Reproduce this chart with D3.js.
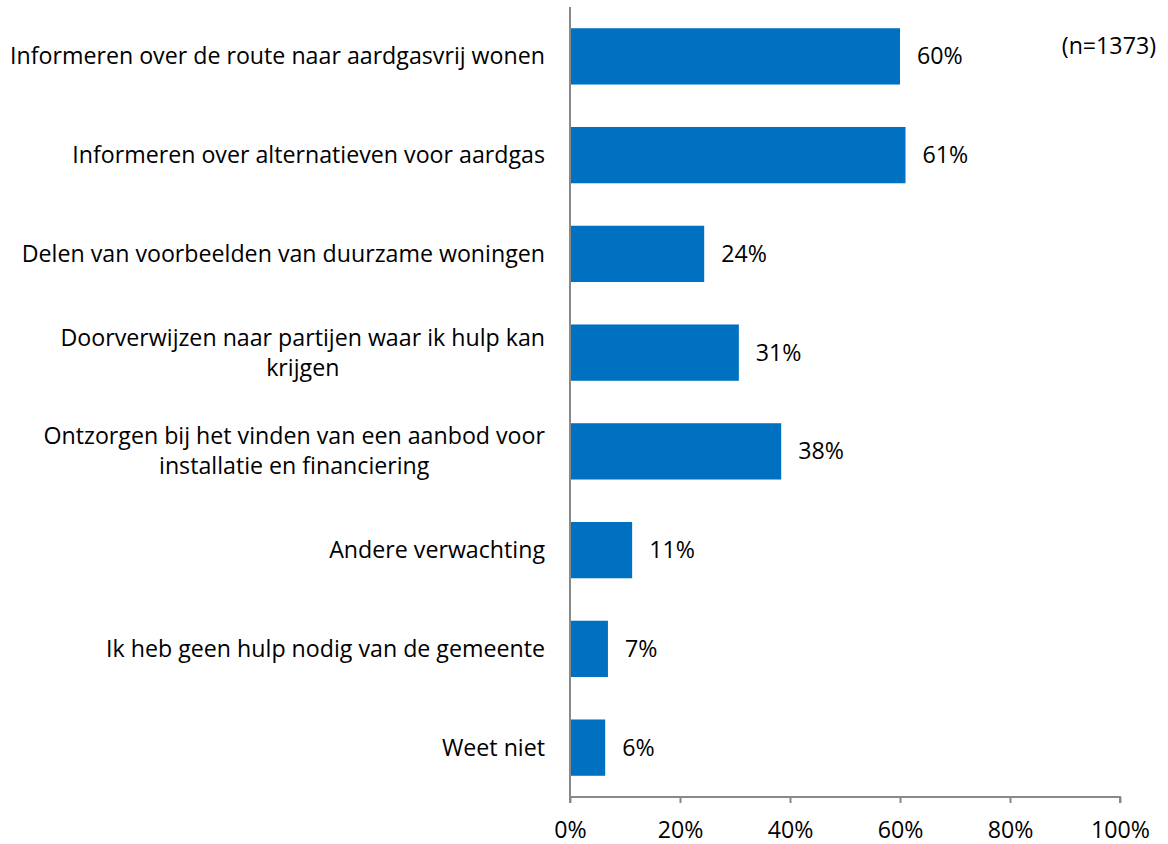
<!DOCTYPE html>
<html><head><meta charset="utf-8">
<script src="https://cdn.jsdelivr.net/npm/d3@7"></script>
<style>body{margin:0;background:#fff;} text{font-family:"Open Sans",sans-serif;fill:#000;}</style>
</head><body>
<svg id="c" width="1168" height="844"></svg>
<script>
const categories = [
  ["Informeren over de route naar aardgasvrij wonen"],
  ["Informeren over alternatieven voor aardgas"],
  ["Delen van voorbeelden van duurzame woningen"],
  ["Doorverwijzen naar partijen waar ik hulp kan", "krijgen"],
  ["Ontzorgen bij het vinden van een aanbod voor", "installatie en financiering"],
  ["Andere verwachting"],
  ["Ik heb geen hulp nodig van de gemeente"],
  ["Weet niet"]
];
const values = [60.0, 61.0, 24.4, 30.7, 38.4, 11.3, 6.9, 6.4];
const valueLabels = ["60%", "61%", "24%", "31%", "38%", "11%", "7%", "6%"];
const xTicks = [0, 20, 40, 60, 80, 100];
const note = "(n=1373)";

const svg = d3.select("#c");
const FS = 23.2;
const x = d3.scaleLinear().domain([0, 100]).range([570, 1120]);
const y = d3.scaleBand().domain(d3.range(categories.length)).range([7, 797]).paddingInner(0.43).paddingOuter(0.215);

svg.selectAll("rect.bar").data(values).join("rect")
  .attr("class", "bar")
  .attr("x", x(0)).attr("y", (d, i) => y(i))
  .attr("width", d => x(d) - x(0)).attr("height", y.bandwidth())
  .attr("fill", "#0070C0");

const axisColor = "#898989";
const xAxis = d3.axisBottom(x).tickValues(xTicks).tickFormat(d => d + "%").tickSize(6).tickPadding(19);
const gx = svg.append("g").attr("transform", "translate(0,797)").call(xAxis);
gx.select(".domain").attr("stroke", axisColor).attr("stroke-width", 2).attr("d", `M${x(0)},6V0H${x(100)}V6`);
gx.selectAll(".tick line").attr("stroke", axisColor).attr("stroke-width", 2);
gx.selectAll(".tick text").attr("font-size", FS).attr("fill", "#000").attr("font-family", "'Open Sans',sans-serif");

svg.append("line").attr("x1", x(0)).attr("x2", x(0)).attr("y1", 7).attr("y2", 797)
  .attr("stroke", axisColor).attr("stroke-width", 2);

const lineH = 30;
categories.forEach((lines, i) => {
  const cy = y(i) + y.bandwidth() / 2;
  const t = svg.append("text").attr("font-size", FS).attr("text-anchor", lines.length > 1 ? "middle" : "end");
  const n = lines.length;
  lines.forEach((ln, j) => {
    t.append("tspan").attr("y", cy + (j - (n - 1) / 2) * lineH).attr("dy", "0.35em").text(ln);
  });
  if (n > 1) {
    const widths = [];
    t.selectAll("tspan").each(function () { widths.push(this.getComputedTextLength()); });
    const w = d3.max(widths);
    t.selectAll("tspan").attr("x", 545 - w / 2);
  } else {
    t.selectAll("tspan").attr("x", 545);
  }
});

svg.selectAll("text.val").data(values).join("text")
  .attr("class", "val").attr("font-size", FS)
  .attr("x", d => x(d) + 17).attr("y", (d, i) => y(i) + y.bandwidth() / 2).attr("dy", "0.35em")
  .text((d, i) => valueLabels[i]);

svg.append("text").attr("font-size", FS).attr("text-anchor", "end").attr("x", 1156).attr("y", 46).attr("dy", "0.35em").text(note);
</script>
</body></html>
